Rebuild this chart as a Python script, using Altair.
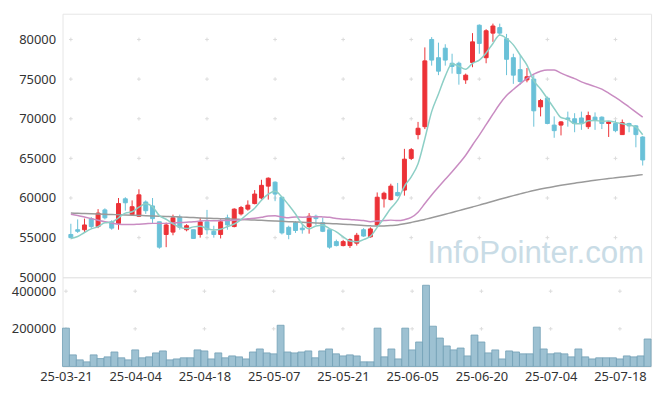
import altair as alt
import pandas as pd

dates = ["25-03-21","25-03-24","25-03-25","25-03-26","25-03-27","25-03-28","25-03-31","25-04-01","25-04-02","25-04-03",
"25-04-04","25-04-07","25-04-08","25-04-09","25-04-10","25-04-11","25-04-14","25-04-15","25-04-16","25-04-17",
"25-04-18","25-04-21","25-04-22","25-04-23","25-04-24","25-04-25","25-04-28","25-04-29","25-04-30","25-05-02",
"25-05-07","25-05-08","25-05-09","25-05-12","25-05-13","25-05-14","25-05-15","25-05-16","25-05-19","25-05-20",
"25-05-21","25-05-22","25-05-23","25-05-26","25-05-27","25-05-28","25-05-29","25-05-30","25-06-02","25-06-04",
"25-06-05","25-06-09","25-06-10","25-06-11","25-06-12","25-06-13","25-06-16","25-06-17","25-06-18","25-06-19",
"25-06-20","25-06-23","25-06-24","25-06-25","25-06-26","25-06-27","25-06-30","25-07-01","25-07-02","25-07-03",
"25-07-04","25-07-07","25-07-08","25-07-09","25-07-10","25-07-11","25-07-14","25-07-15","25-07-16","25-07-17",
"25-07-18","25-07-21","25-07-22","25-07-23","25-07-24"]

opens = [55400,56000,56000,57400,56400,58500,57000,56800,59900,57900,
57700,59500,59000,57000,55400,55700,57600,56000,56000,55400,
57000,55800,55400,57500,56400,58000,58600,59300,60000,61500,
62000,60100,56300,56900,56200,56400,57700,56900,56000,54500,
54000,54000,54300,56000,55100,56600,59900,59800,60700,61000,
65000,68000,69000,80000,77700,78900,77000,77000,74900,77100,
81800,77700,80800,81500,80100,77700,76200,74900,75000,71500,
72600,69200,69200,70100,70000,70100,69000,70200,70200,69400,
69400,68000,69400,69100,67700]

closes = [55000,55800,56600,56400,58100,57500,56200,59300,59400,58900,
60400,58400,57400,53800,56600,57500,56300,56500,54900,57000,
56000,55400,57000,56600,58600,58800,59100,60500,61600,62500,
60500,55600,55400,55900,56000,57700,57400,55800,53800,54000,
54500,54750,55300,55200,56100,60100,60600,61500,60300,64900,
66100,68800,77300,77400,76000,77400,76600,75700,75500,79700,
79500,81100,81700,80800,77500,75500,74700,75300,71000,72300,
69400,68500,69600,69900,69400,69400,70400,69800,69400,69600,
68500,69500,69100,68000,64800]

highs = [56750,57300,57400,57600,58600,58700,57200,60000,60100,59700,
61100,59700,60000,57000,56900,57900,57900,56700,56000,57500,
58500,56500,57300,57900,58700,59000,59700,61000,62300,62600,
62100,60100,56500,57100,56700,58100,57900,57500,56000,54750,
54700,54900,55600,56200,56300,60700,60800,61800,61900,66200,
66300,69600,79000,80300,79600,79400,78200,77200,75700,80800,
81900,81300,82000,82000,80700,78200,78000,76400,75500,72500,
72800,70300,69700,70900,70700,70900,70900,70800,70300,69700,
69800,69900,69500,69200,67800]

lows = [55000,55600,55700,56200,56200,57300,56000,56000,58400,57800,
57600,58000,56800,53600,53800,55300,56000,55800,54900,55000,
55400,55000,54900,56000,56300,57800,58400,59200,59800,59800,
59600,55400,54800,55600,55500,55500,56600,55700,53600,53900,
53900,53700,54000,55100,55000,56400,58800,59700,60200,60300,
64800,67400,68700,76700,75500,76700,75700,74300,74400,76500,
78200,77000,79700,80500,75500,74400,74300,74600,69000,70300,
69300,67600,67900,69000,68300,68600,68700,68600,68700,67700,
68300,68000,68300,66400,64100]

volumes = [203700,61500,35000,24500,61500,42000,51000,77000,46000,35000,
88000,46000,51000,72000,82500,35000,40000,46000,46000,88000,
82500,40000,72000,46000,56000,51000,40000,77000,93000,72000,
67000,219000,77000,72000,77000,82500,46000,82500,93000,67000,
56000,61500,56000,24500,24500,203700,51000,93000,40000,203700,
88000,130000,431600,214000,151000,109000,88000,98000,56000,167000,
130000,72000,88000,40000,82500,77000,67000,67000,209000,93000,
67000,72000,67000,51000,93000,51000,40000,46000,46000,46000,
40000,56000,51000,56000,146000]

ma5 = [54900,55150,55650,56100,56380,56880,56960,57500,58100,58260,
58840,59280,58900,57780,57320,56740,56320,56140,56360,56440,
56140,55960,56060,56400,56720,57280,58020,58720,59720,60500,
60840,60140,59120,57980,56680,56120,56480,56560,56140,55740,
55100,54570,54470,54750,55170,56290,57460,58700,59720,61480,
62680,64320,67480,70900,73120,75380,76940,76620,76240,76980,
77400,78300,79500,80560,80120,79320,78040,76760,74800,73760,
72540,71300,70160,69940,69360,69360,69740,69780,69680,69720,
69540,69360,69220,68940,67980]

ma20 = [57950,57800,57600,57400,57200,57000,56850,56700,56650,56650,
56700,56750,56800,56800,56800,56850,56900,56950,57000,57100,
57150,57130,57150,57160,57185,57250,57395,57455,57565,57745,
57750,57610,57510,57615,57585,57595,57650,57615,57560,57410,
57335,57300,57220,57150,57020,57090,57160,57210,57150,57270,
57550,58210,59300,60380,61380,62360,63320,64320,65400,66690,
67940,69255,70575,71855,72925,73695,74400,75090,75625,75995,
76160,76145,75760,75385,75055,74655,74345,74050,73745,73240,
72690,72110,71480,70840,70205]

ma_long = [58100,58070,58040,58010,57980,57950,57920,57890,57860,57830,
57800,57770,57740,57710,57680,57650,57610,57570,57530,57490,
57450,57420,57390,57360,57330,57300,57260,57220,57180,57140,
57100,57060,57020,56980,56940,56900,56860,56820,56780,56740,
56700,56650,56600,56540,56490,56460,56480,56530,56600,56750,
56920,57100,57300,57500,57720,57950,58180,58410,58640,58870,
59100,59350,59600,59840,60070,60300,60520,60740,60950,61130,
61300,61450,61600,61740,61870,62000,62120,62240,62350,62450,
62550,62650,62750,62850,62950]

tick_idx = [0, 10, 20, 30, 40, 50, 60, 70, 80]
price_ticks = [50000, 55000, 60000, 65000, 70000, 75000, 80000]
vol_ticks = [200000, 400000]

RED = "#ec3237"
BLUE = "#6ac1d8"
FONT = "Noto Sans"

n = len(dates)
df = pd.DataFrame({
    "idx": list(range(n)), "date": dates, "open": opens, "close": closes,
    "high": highs, "low": lows, "volume": volumes,
    "ma5": ma5, "ma20": ma20, "malong": ma_long,
})
df["dir"] = ["up" if c >= o else "down" for o, c in zip(opens, closes)]
df["body_lo"] = [min(o, c) for o, c in zip(opens, closes)]
df["body_hi"] = [max(o, c) for o, c in zip(opens, closes)]
df["x0"] = df["idx"] - 0.5
df["x1"] = df["idx"] + 0.5

grid_price = pd.DataFrame([{"idx": i, "v": v} for i in tick_idx for v in price_ticks[1:]])
grid_vol = pd.DataFrame([{"idx": i, "v": v} for i in tick_idx for v in vol_ticks])

W = 594
xscale = alt.Scale(domain=[-0.5, 84.5], nice=False, zero=False)
pscale = alt.Scale(domain=[50000, 83250], nice=False, zero=False)
vscale = alt.Scale(domain=[0, 474000], nice=False, zero=False)
color = alt.Color("dir:N", scale=alt.Scale(domain=["up", "down"], range=[RED, BLUE]), legend=None)

yaxis_p = alt.Axis(values=price_ticks, format="d", title=None, domain=False, ticks=False, grid=False,
                   labelPadding=7, minExtent=54, maxExtent=54)
X = alt.X("idx:Q", scale=xscale, axis=None)

base = alt.Chart(df)

watermark = alt.Chart(pd.DataFrame({"t": ["InfoPointer.com"]})).mark_text(
    font="Liberation Sans", fontSize=31.5, color="#c9dce6", align="right", baseline="alphabetic"
).encode(x=alt.value(587), y=alt.value(252), text="t:N")

cross_shape = "M-1,0L1,0M0,-1L0,1"
crosses_p = alt.Chart(grid_price).mark_point(
    shape=cross_shape, size=14, filled=False, stroke="#dcdcdc", strokeWidth=1, opacity=1
).encode(x=alt.X("idx:Q", scale=xscale, axis=None), y=alt.Y("v:Q", scale=pscale, axis=yaxis_p))

wicks = base.mark_rule(strokeWidth=1).encode(
    x=X, y=alt.Y("low:Q", scale=pscale, axis=yaxis_p), y2="high:Q", color=color)
bodies = base.mark_bar(size=4, strokeWidth=1).encode(
    x=X, y=alt.Y("body_lo:Q", scale=pscale), y2="body_hi:Q", color=color,
    stroke=alt.Stroke("dir:N", scale=alt.Scale(domain=["up", "down"], range=[RED, BLUE]), legend=None))

line_long = base.mark_line(strokeWidth=1.5, interpolate="monotone", color="#9a9a9a").encode(
    x=X, y=alt.Y("malong:Q", scale=pscale))
line20 = base.mark_line(strokeWidth=1.5, interpolate="monotone", color="#c98cc2").encode(
    x=X, y=alt.Y("ma20:Q", scale=pscale))
line5 = base.mark_line(strokeWidth=1.5, interpolate="monotone", color="#8dcfc6").encode(
    x=X, y=alt.Y("ma5:Q", scale=pscale))

price = alt.layer(watermark, crosses_p, wicks, bodies, line_long, line20, line5).properties(width=W, height=266)

label_expr = "[" + ",".join("'" + d + "'" for d in dates) + "][datum.value]"
xaxis_v = alt.Axis(values=tick_idx, labelExpr=label_expr, title=None, domain=False, ticks=False,
                   grid=False, labelPadding=4, labelFlush=False, labelOverlap=False)
yaxis_v = alt.Axis(values=vol_ticks, format="d", title=None, domain=False, ticks=False, grid=False,
                   labelPadding=7, minExtent=54, maxExtent=54)

crosses_v = alt.Chart(grid_vol).mark_point(
    shape=cross_shape, size=14, filled=False, stroke="#dcdcdc", strokeWidth=1, opacity=1
).encode(x=alt.X("idx:Q", scale=xscale, axis=xaxis_v), y=alt.Y("v:Q", scale=vscale, axis=yaxis_v))

vbars = base.mark_rect(fill="#9dc1d2", stroke="#72a0b6", strokeWidth=0.8).encode(
    x=alt.X("x0:Q", scale=xscale, axis=xaxis_v), x2="x1:Q",
    y=alt.Y("volume:Q", scale=vscale, axis=yaxis_v), y2=alt.datum(0))

volume = alt.layer(crosses_v, vbars).properties(width=W, height=90)

chart = alt.vconcat(price, volume, spacing=0, bounds="flush").properties(
    padding={"left": 0, "top": 3, "right": 5, "bottom": 5}
).configure_view(stroke="#e6e6e6", strokeWidth=1).configure_axis(
    labelFont=FONT, labelFontSize=13, labelColor="#333333"
).configure_concat(spacing=0)

chart.save("out.html", embed_options={"renderer": "svg", "actions": False})
